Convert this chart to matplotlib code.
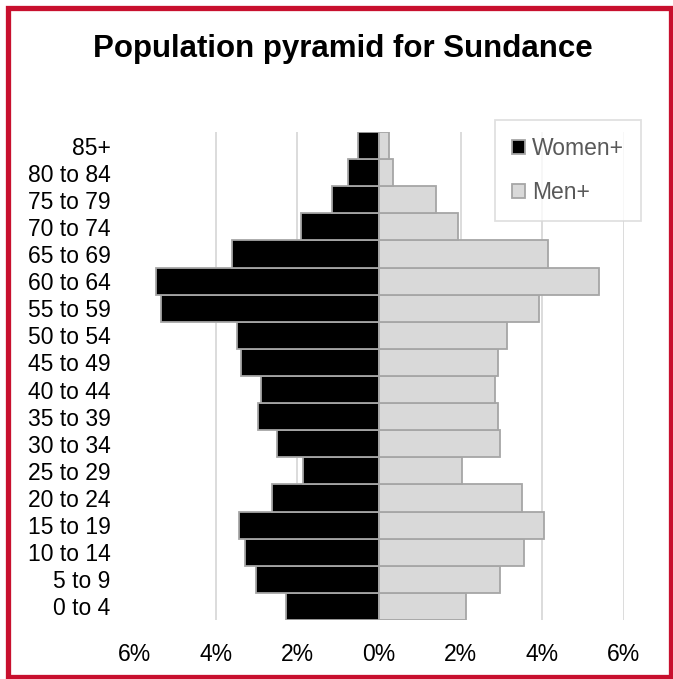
import matplotlib
matplotlib.use('Agg')
import matplotlib.pyplot as plt
from matplotlib.patches import Patch, Rectangle

plt.rcParams['font.family'] = ['Liberation Sans', 'DejaVu Sans']

ageGroups = ['0 to 4', '5 to 9', '10 to 14', '15 to 19', '20 to 24', '25 to 29',
             '30 to 34', '35 to 39', '40 to 44', '45 to 49', '50 to 54', '55 to 59',
             '60 to 64', '65 to 69', '70 to 74', '75 to 79', '80 to 84', '85+']
women = [2.28, 3.01, 3.27, 3.43, 2.63, 1.86, 2.49, 2.96, 2.90, 3.38, 3.47, 5.33,
         5.47, 3.59, 1.91, 1.16, 0.75, 0.51]
men = [2.13, 2.97, 3.55, 4.03, 3.50, 2.03, 2.97, 2.91, 2.85, 2.92, 3.13, 3.92,
       5.39, 4.13, 1.93, 1.40, 0.35, 0.25]
xTicks = [-6, -4, -2, 0, 2, 4, 6]
xTickLabels = ['6%', '4%', '2%', '0%', '2%', '4%', '6%']

W, H = 673, 679
fig = plt.figure(figsize=(W / 100, H / 100), dpi=100)
ax = fig.add_axes([134 / W, 1 - 620 / H, 490 / W, 488 / H])

pos = range(len(ageGroups))
ax.barh(pos, [-v for v in women], height=1.0, color='black',
        edgecolor='#a6a6a6', linewidth=1.3, zorder=3)
ax.barh(pos, men, height=1.0, color='#d9d9d9',
        edgecolor='#a6a6a6', linewidth=1.3, zorder=3)

ax.set_xlim(-6, 6)
ax.set_ylim(-0.5, len(ageGroups) - 0.5)
ax.set_xticks(xTicks)
ax.set_xticklabels(xTickLabels)
ax.set_yticks(list(pos))
ax.set_yticklabels(ageGroups)
ax.tick_params(axis='x', length=0, pad=16.5, labelsize=16.5, labelcolor='black')
ax.tick_params(axis='y', length=0, pad=17, labelsize=16.5, labelcolor='black')
for s in ax.spines.values():
    s.set_visible(False)

for x in [-4, -2, 2, 4, 6]:
    ax.axvline(x, color='#d9d9d9', linewidth=1.3, zorder=1)

fig.text(343 / W, 1 - 49 / H, 'Population pyramid for Sundance',
         ha='center', va='center', fontsize=22.5, fontweight='bold')

handles = [Patch(facecolor='black', edgecolor='#a6a6a6', linewidth=1.3, label='Women+'),
           Patch(facecolor='#d9d9d9', edgecolor='#a6a6a6', linewidth=1.3, label='Men+')]
leg = fig.legend(handles=handles, loc='upper left',
                 bbox_to_anchor=(495 / W, 1 - 120 / H), fontsize=16.5,
                 frameon=True, fancybox=False, edgecolor='#d9d9d9',
                 handlelength=0.55, handleheight=0.55, handletextpad=0.3,
                 labelspacing=0.9, borderpad=0.75, borderaxespad=0)
leg.get_frame().set_linewidth(1.3)
for t in leg.get_texts():
    t.set_color('#595959')

# red outer border
fig.patches.append(Rectangle((7.5 / W, 1 - 677 / H), (671 - 7.5) / W, (677 - 7.5) / H,
                             transform=fig.transFigure, fill=False,
                             edgecolor='#c8102e', linewidth=3.8, zorder=10))

fig.savefig('out.png', dpi=100)
